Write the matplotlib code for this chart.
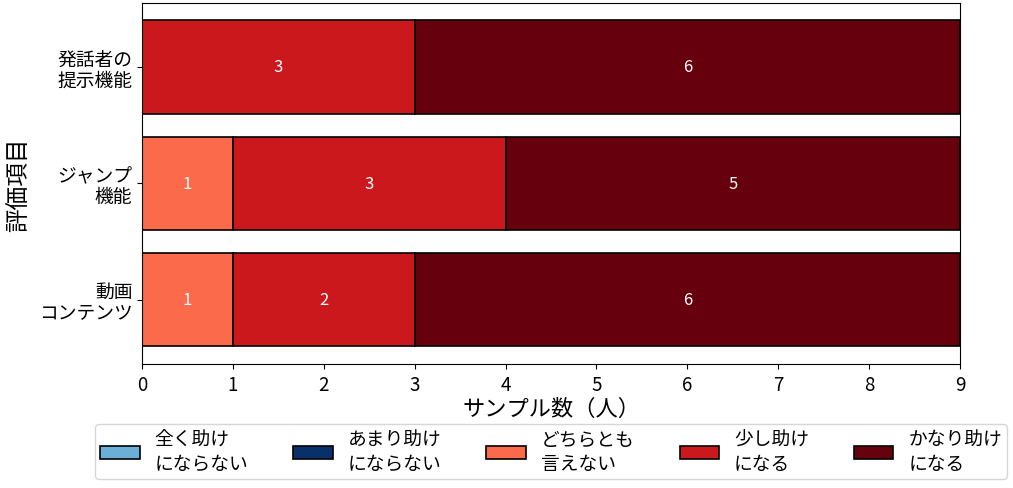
import matplotlib
matplotlib.use("Agg")
import matplotlib.pyplot as plt
import numpy as np

plt.rcParams['font.family'] = ['Noto Sans CJK JP', 'DejaVu Sans']

items = ["動画\nコンテンツ", "ジャンプ\n機能", "発話者の\n提示機能"]
levels = ["全く助け\nにならない", "あまり助け\nにならない", "どちらとも\n言えない", "少し助け\nになる", "かなり助け\nになる"]
colors = ["#6baed6", "#08306b", "#fb6a4a", "#cb181d", "#67000d"]
counts = [
    [0, 0, 1, 2, 6],
    [0, 0, 1, 3, 5],
    [0, 0, 0, 3, 6],
]

fig = plt.figure(figsize=(10.13, 4.89), dpi=100)
ax = fig.add_axes([0.1402, 0.254, 0.8075, 0.738])

data = np.array(counts)
y = np.arange(len(items))
left = np.zeros(len(items))
for j, lev in enumerate(levels):
    vals = data[:, j]
    ax.barh(y, vals, left=left, height=0.8, color=colors[j], edgecolor="black",
            linewidth=1.2, label=lev)
    for i, v in enumerate(vals):
        if v > 0:
            ax.text(left[i] + v / 2, y[i], str(v), ha="center", va="center",
                    color="white", fontsize=12)
    left += vals

ax.set_xlim(0, 9)
ax.set_ylim(-0.55, 2.55)
ax.set_yticks(y)
ax.set_yticklabels(items, fontsize=13.5, linespacing=1.0)
ax.set_xticks(range(10))
ax.tick_params(axis="x", labelsize=13.5)
ax.set_xlabel("サンプル数（人）", fontsize=16, labelpad=2)
ax.set_ylabel("評価項目", fontsize=17, labelpad=6)

fig.legend(loc="lower center", bbox_to_anchor=(0.544, 0.0), ncol=5, fontsize=13.5,
           frameon=True, handlelength=2.1, columnspacing=2.4, borderpad=0.25,
           labelspacing=0.2, handletextpad=0.8)

plt.savefig("out.png", dpi=100)
